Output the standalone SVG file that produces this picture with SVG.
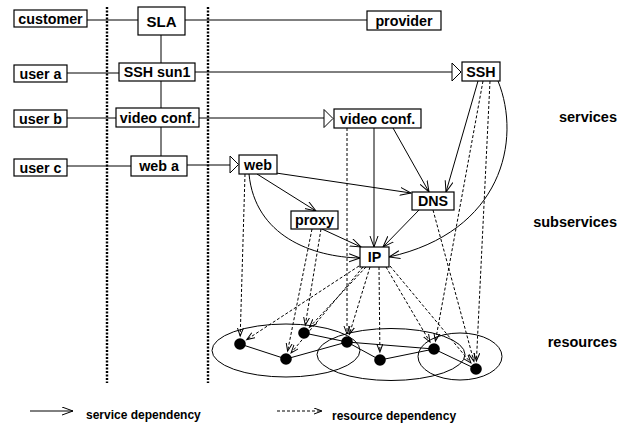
<svg xmlns="http://www.w3.org/2000/svg" width="632" height="423" viewBox="0 0 632 423">
<style>
  .box { fill: #fff; stroke: #000; stroke-width: 1.2; }
  .t { font-family: "Liberation Sans", Arial, sans-serif; font-weight: bold; font-size: 14.3px; text-anchor: middle; fill: #000; }
  .side { font-family: "Liberation Sans", Arial, sans-serif; font-weight: bold; font-size: 14.5px; text-anchor: end; fill: #000; }
  .leg { font-family: "Liberation Sans", Arial, sans-serif; font-weight: bold; font-size: 12px; fill: #000; }
  .ln { fill: none; stroke: #000; stroke-width: 1; }
  .dep { fill: none; stroke: #000; stroke-width: 1; marker-end: url(#arr); }
  .res { fill: none; stroke: #000; stroke-width: 1; stroke-dasharray: 3 2; marker-end: url(#darr); }
  .sep { fill: none; stroke: #000; stroke-width: 2.4; stroke-dasharray: 2 1.5; }
  .tri { fill: #fff; stroke: #000; stroke-width: 1; }
  .dot { fill: #000; }
  .ell { fill: none; stroke: #000; stroke-width: 1; }
</style>
<defs>
  <marker id="arr" markerUnits="userSpaceOnUse" markerWidth="12" markerHeight="10" refX="11" refY="4.5" orient="auto">
    <path d="M0,0.5 L11,4.5 L0,8.5" fill="none" stroke="#000" stroke-width="1"/>
  </marker>
  <marker id="darr" markerUnits="userSpaceOnUse" markerWidth="10" markerHeight="8" refX="8" refY="3.5" orient="auto">
    <path d="M0,0.5 L8,3.5 L0,6.5" fill="none" stroke="#000" stroke-width="1"/>
  </marker>
</defs>

<!-- separators -->
<line class="sep" x1="107" y1="7" x2="107" y2="383"/>
<line class="sep" x1="208" y1="7" x2="208" y2="383"/>

<!-- resource clusters -->
<g id="clusters">
  <ellipse class="ell" cx="286" cy="350.5" rx="74" ry="26.5"/>
  <ellipse class="ell" cx="391" cy="354.5" rx="74" ry="26"/>
  <ellipse class="ell" cx="460" cy="356.5" rx="42" ry="23.5"/>
</g>

<g id="connectors">
  <!-- left hierarchy -->
  <line class="ln" x1="87" y1="20" x2="138" y2="20"/>
  <line class="ln" x1="185" y1="20" x2="367" y2="20"/>
  <line class="ln" x1="161" y1="35" x2="161" y2="63"/>
  <line class="ln" x1="161" y1="81" x2="161" y2="108"/>
  <line class="ln" x1="161" y1="127" x2="161" y2="156"/>
  <line class="ln" x1="67" y1="73" x2="119" y2="73"/>
  <line class="ln" x1="67" y1="118" x2="116" y2="118"/>
  <line class="ln" x1="67" y1="166" x2="131" y2="166"/>
  <!-- service instances to services -->
  <line class="ln" x1="195" y1="72" x2="452" y2="72"/>
  <polygon class="tri" points="452,63 461,72 452,81"/>
  <line class="ln" x1="199" y1="118" x2="324" y2="118"/>
  <polygon class="tri" points="324,109.5 333,118.5 324,127.5"/>
  <line class="ln" x1="187" y1="165" x2="230" y2="165"/>
  <polygon class="tri" points="230,156 238.5,164.5 230,173"/>

  <!-- service dependencies -->
  <line class="dep" x1="478" y1="81" x2="446" y2="192"/>
  <line class="dep" x1="393" y1="128" x2="429" y2="192"/>
  <line class="dep" x1="374" y1="128" x2="374" y2="247"/>
  <path class="dep" d="M498,81 C522,140 502,232 389,257"/>
  <line class="dep" x1="276" y1="173" x2="411" y2="193"/>
  <line class="dep" x1="257" y1="174" x2="316" y2="211"/>
  <path class="dep" d="M249,174 C255,236 312,257 360,258"/>
  <line class="dep" x1="322" y1="229" x2="361" y2="247"/>
  <line class="dep" x1="419" y1="210" x2="383" y2="247"/>

  <!-- resource links -->
  <line class="ln" x1="240" y1="344" x2="286" y2="359"/>
  <line class="ln" x1="286" y1="359" x2="347" y2="342"/>
  <line class="ln" x1="304" y1="333" x2="347" y2="342"/>
  <line class="ln" x1="347" y1="342" x2="380" y2="360"/>
  <line class="ln" x1="347" y1="342" x2="434" y2="349"/>
  <line class="ln" x1="380" y1="360" x2="434" y2="349"/>
  <line class="ln" x1="434" y1="349" x2="476" y2="369"/>

  <!-- resource dependencies -->
  <line class="res" x1="245" y1="174" x2="240.2" y2="336"/>
  <line class="res" x1="312" y1="229" x2="287.6" y2="351.2"/>
  <line class="res" x1="321" y1="229" x2="305.3" y2="325.1"/>
  <line class="res" x1="347" y1="128" x2="347" y2="334"/>
  <line class="res" x1="359" y1="266" x2="246.7" y2="339.6"/>
  <line class="res" x1="363" y1="267" x2="291.1" y2="352.9"/>
  <line class="res" x1="366" y1="267" x2="309.5" y2="327.2"/>
  <line class="res" x1="370" y1="267" x2="349.3" y2="334.4"/>
  <line class="res" x1="379" y1="267" x2="379.9" y2="352"/>
  <line class="res" x1="386" y1="267" x2="430" y2="342.1"/>
  <line class="res" x1="390" y1="266" x2="470.9" y2="362.9"/>
  <line class="res" x1="433" y1="210" x2="473.9" y2="361.3"/>
  <line class="res" x1="483" y1="81" x2="435.4" y2="341.1"/>
  <line class="res" x1="490" y1="81" x2="476.4" y2="361"/>
</g>

<!-- nodes -->
<g id="customer"><rect class="box" x="14" y="10" width="73" height="17"/><text class="t" x="50.5" y="23.5">customer</text></g>
<g id="sla"><rect class="box" x="138" y="7" width="47" height="28"/><text class="t" x="161.5" y="26.5" style="font-size:15px">SLA</text></g>
<g id="provider"><rect class="box" x="367" y="11" width="74" height="19"/><text class="t" x="404" y="25.5">provider</text></g>
<g id="user-a"><rect class="box" x="14" y="65" width="53" height="17"/><text class="t" x="40.5" y="78.5">user a</text></g>
<g id="ssh-sun1"><rect class="box" x="119" y="63" width="76" height="18"/><text class="t" x="157" y="77">SSH sun1</text></g>
<g id="user-b"><rect class="box" x="14" y="110" width="53" height="17"/><text class="t" x="40.5" y="123.5">user b</text></g>
<g id="video-conf-inst"><rect class="box" x="116" y="108" width="83" height="19"/><text class="t" x="157.5" y="122.5">video conf.</text></g>
<g id="user-c"><rect class="box" x="14" y="159" width="53" height="17"/><text class="t" x="40.5" y="172.5">user c</text></g>
<g id="web-a"><rect class="box" x="131" y="156" width="56" height="20"/><text class="t" x="159" y="171">web a</text></g>
<g id="ssh"><rect class="box" x="462" y="62" width="38" height="19"/><text class="t" x="481" y="76.5">SSH</text></g>
<g id="video-conf"><rect class="box" x="334" y="109" width="87" height="19"/><text class="t" x="377.5" y="123.5">video conf.</text></g>
<g id="web"><rect class="box" x="239" y="155" width="38" height="19"/><text class="t" x="258" y="169.5">web</text></g>
<g id="dns"><rect class="box" x="412" y="192" width="42" height="18"/><text class="t" x="433" y="206">DNS</text></g>
<g id="proxy"><rect class="box" x="291" y="211" width="47" height="18"/><text class="t" x="314.5" y="225">proxy</text></g>
<g id="ip"><rect class="box" x="360" y="247" width="29" height="20"/><text class="t" x="374.5" y="262">IP</text></g>

<!-- resources -->
<g id="resources">
  <circle class="dot" cx="240" cy="344" r="5.8"/>
  <circle class="dot" cx="286" cy="359" r="5.8"/>
  <circle class="dot" cx="304" cy="333" r="5.8"/>
  <circle class="dot" cx="347" cy="342" r="5.8"/>
  <circle class="dot" cx="380" cy="360" r="5.8"/>
  <circle class="dot" cx="434" cy="349" r="5.8"/>
  <circle class="dot" cx="476" cy="369" r="5.8"/>
</g>

<!-- layer labels -->
<text class="side" x="617" y="122">services</text>
<text class="side" x="617" y="227">subservices</text>
<text class="side" x="617" y="347">resources</text>

<!-- legend -->
<g id="legend">
  <line class="dep" x1="30" y1="411" x2="73" y2="411"/>
  <text class="leg" x="86" y="419">service dependency</text>
  <line class="res" x1="277" y1="411" x2="322" y2="411"/>
  <text class="leg" x="332" y="420">resource dependency</text>
</g>
</svg>
